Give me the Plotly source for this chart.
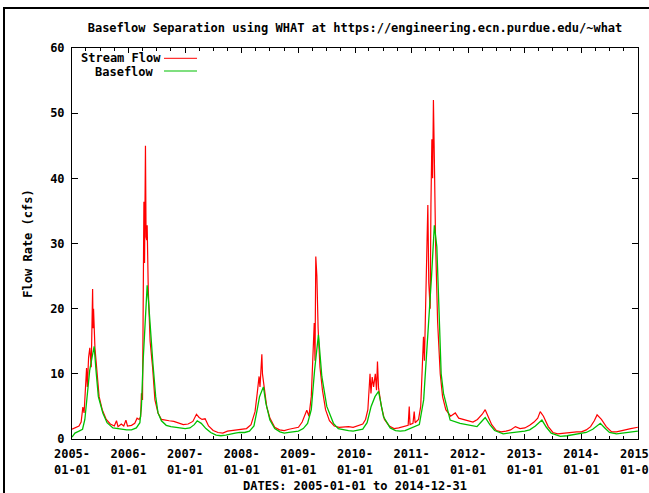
import plotly.graph_objects as go

# ---- Data ----
stream_dates = [
    "2005-01-01", "2005-01-25", "2005-02-15", "2005-03-01", "2005-03-12", "2005-03-20", "2005-04-05", "2005-04-10",
    "2005-04-18", "2005-04-26", "2005-05-05", "2005-05-14", "2005-05-17", "2005-05-20", "2005-05-29", "2005-06-10",
    "2005-06-25", "2005-07-15", "2005-08-10", "2005-09-05", "2005-10-01", "2005-10-15", "2005-10-25", "2005-11-15",
    "2005-12-01", "2005-12-15", "2005-12-25", "2006-01-20", "2006-02-10", "2006-02-25", "2006-03-10", "2006-03-20",
    "2006-03-25", "2006-04-01", "2006-04-05", "2006-04-10", "2006-04-14", "2006-04-20", "2006-04-24", "2006-04-28",
    "2006-05-01", "2006-05-08", "2006-05-20", "2006-06-05", "2006-06-20", "2006-07-10", "2006-08-01", "2006-08-20",
    "2006-09-20", "2006-10-20", "2006-11-20", "2006-12-20", "2007-01-20", "2007-02-20", "2007-03-15", "2007-04-01",
    "2007-04-20", "2007-05-10", "2007-06-01", "2007-07-01", "2007-08-01", "2007-09-01", "2007-10-01", "2007-11-01",
    "2007-12-01", "2008-01-01", "2008-02-01", "2008-03-01", "2008-03-27", "2008-04-10", "2008-04-22", "2008-04-28",
    "2008-05-10", "2008-05-14", "2008-05-25", "2008-06-10", "2008-07-01", "2008-08-01", "2008-09-01", "2008-10-01",
    "2008-11-01", "2008-12-01", "2009-01-01", "2009-01-25", "2009-02-24", "2009-03-10", "2009-03-25", "2009-04-13",
    "2009-04-18", "2009-04-23", "2009-04-30", "2009-05-08", "2009-05-20", "2009-06-05", "2009-06-25", "2009-07-20",
    "2009-08-20", "2009-09-20", "2009-10-20", "2009-11-20", "2009-12-20", "2010-01-20", "2010-02-20", "2010-03-10",
    "2010-03-25", "2010-04-08", "2010-04-14", "2010-04-22", "2010-05-01", "2010-05-12", "2010-05-20", "2010-05-26",
    "2010-06-02", "2010-06-20", "2010-07-10", "2010-08-10", "2010-09-10", "2010-10-10", "2010-11-10", "2010-12-10",
    "2010-12-17", "2010-12-22", "2011-01-10", "2011-01-18", "2011-01-24", "2011-02-15", "2011-03-01", "2011-03-09",
    "2011-03-19", "2011-03-25", "2011-04-05", "2011-04-16", "2011-04-22", "2011-05-01", "2011-05-06", "2011-05-12",
    "2011-05-17", "2011-05-22", "2011-05-28", "2011-06-05", "2011-06-18", "2011-07-05", "2011-07-20", "2011-08-10",
    "2011-09-10", "2011-10-10", "2011-11-01", "2011-12-01", "2012-01-01", "2012-02-01", "2012-03-01", "2012-04-01",
    "2012-04-20", "2012-05-10", "2012-06-01", "2012-07-01", "2012-08-01", "2012-09-01", "2012-10-01", "2012-11-01",
    "2012-12-01", "2013-01-01", "2013-02-01", "2013-03-01", "2013-03-25", "2013-04-10", "2013-05-01", "2013-06-01",
    "2013-07-01", "2013-08-01", "2013-09-01", "2013-10-01", "2013-11-01", "2013-12-01", "2014-01-01", "2014-02-01",
    "2014-03-01", "2014-03-25", "2014-04-12", "2014-05-10", "2014-06-10", "2014-07-15", "2014-08-15", "2014-09-15",
    "2014-10-15", "2014-11-15", "2014-12-31",
]
stream_flow = [
    1.5, 1.8, 2.0, 2.6, 4.9, 4.0, 10.9, 8.0,
    12.5, 14.0, 11.0, 23.0, 17.0, 20.0, 14.0, 10.0,
    6.5, 4.5, 3.0, 2.3, 2.0, 2.8, 1.9, 2.3,
    2.0, 2.9, 2.0, 2.1, 2.4, 3.2, 3.0, 3.4,
    7.0, 6.0, 18.7, 36.4, 27.0, 45.0, 31.0, 30.5,
    32.8, 23.0, 15.0, 11.0, 6.0, 4.0, 3.0, 2.9,
    2.8, 2.7, 2.4, 2.2, 2.3, 2.7, 3.8, 3.3,
    3.0, 3.1, 2.0, 1.3, 1.0, 0.9, 1.2, 1.3,
    1.4, 1.4, 1.6, 2.2, 4.2, 7.0, 9.6, 8.0,
    13.0, 10.0, 8.0, 5.0, 3.2, 1.8, 1.4, 1.3,
    1.5, 1.7, 1.8, 2.6, 4.4, 3.5, 6.5, 17.8,
    12.0, 28.0, 25.0, 17.0, 11.0, 7.5, 4.5, 2.8,
    2.0, 1.8, 1.9, 1.9, 1.8, 2.0, 2.3, 3.0,
    4.5, 10.0, 7.0, 9.5, 8.0, 10.0, 7.5, 11.9,
    7.8, 5.0, 3.0, 2.0, 1.6, 1.7, 1.9, 2.1,
    5.0, 2.2, 2.4, 4.2, 2.5, 3.0, 5.0, 9.6,
    15.7, 12.0, 22.0, 35.9, 24.0, 20.0, 36.0, 46.0,
    40.0, 52.0, 43.0, 30.0, 18.0, 10.0, 6.5, 4.5,
    3.5, 4.0, 3.2, 3.0, 2.7, 2.6, 3.0, 3.8,
    4.5, 3.5, 2.2, 1.3, 1.1, 1.2, 1.4, 1.9,
    1.6, 1.7, 2.1, 2.6, 3.2, 4.2, 3.5, 1.9,
    1.0, 0.8, 0.9, 1.0, 1.0, 1.1, 1.1, 1.4,
    1.9, 2.8, 3.7, 3.0, 1.9, 1.1, 1.1, 1.3,
    1.4, 1.6, 1.8,
]

base_dates = [
    "2005-01-01", "2005-01-20", "2005-02-15", "2005-03-10", "2005-03-25", "2005-04-10", "2005-04-25", "2005-05-10",
    "2005-05-24", "2005-06-05", "2005-06-20", "2005-07-19", "2005-08-15", "2005-09-22", "2005-10-20", "2005-11-20",
    "2005-12-20", "2006-01-20", "2006-02-20", "2006-03-15", "2006-03-25", "2006-04-05", "2006-04-20", "2006-05-01",
    "2006-05-10", "2006-05-25", "2006-06-07", "2006-06-25", "2006-07-10", "2006-08-01", "2006-09-01", "2006-10-01",
    "2006-11-01", "2006-12-01", "2007-01-01", "2007-02-01", "2007-03-01", "2007-03-20", "2007-04-15", "2007-05-15",
    "2007-06-15", "2007-07-20", "2007-08-20", "2007-09-20", "2007-10-20", "2007-11-20", "2007-12-20", "2008-01-20",
    "2008-02-20", "2008-03-20", "2008-04-10", "2008-04-25", "2008-05-20", "2008-06-05", "2008-07-01", "2008-08-01",
    "2008-09-04", "2008-10-01", "2008-11-01", "2008-12-01", "2009-01-01", "2009-02-01", "2009-03-01", "2009-03-25",
    "2009-04-15", "2009-05-10", "2009-06-01", "2009-07-03", "2009-08-15", "2009-09-15", "2009-10-19", "2009-11-20",
    "2009-12-20", "2010-01-20", "2010-02-20", "2010-03-20", "2010-04-15", "2010-05-10", "2010-06-02", "2010-07-04",
    "2010-08-16", "2010-09-20", "2010-10-20", "2010-11-20", "2010-12-20", "2011-01-20", "2011-02-20", "2011-03-20",
    "2011-04-20", "2011-05-10", "2011-05-28", "2011-06-13", "2011-06-30", "2011-07-11", "2011-07-26", "2011-09-07",
    "2011-11-10", "2011-12-20", "2012-02-27", "2012-03-25", "2012-04-20", "2012-05-20", "2012-06-20", "2012-08-14",
    "2012-10-01", "2012-11-15", "2012-12-31", "2013-02-01", "2013-03-10", "2013-04-21", "2013-05-20", "2013-06-20",
    "2013-08-18", "2013-10-01", "2013-11-15", "2013-12-31", "2014-02-01", "2014-03-15", "2014-05-03", "2014-06-01",
    "2014-07-01", "2014-08-15", "2014-10-01", "2014-11-15", "2014-12-31",
]
baseflow = [
    0.3, 0.9, 1.2, 1.5, 3.0, 6.5, 10.5, 12.5,
    14.2, 10.5, 6.5, 4.0, 2.5, 1.7, 1.6, 1.5,
    1.4, 1.4, 1.7, 2.5, 5.0, 12.0, 19.0, 23.6,
    21.0, 15.0, 11.6, 6.5, 4.0, 2.8, 2.1, 1.9,
    1.8, 1.7, 1.6, 1.7, 2.2, 2.8, 2.4, 1.6,
    1.0, 0.6, 0.5, 0.6, 0.8, 0.9, 1.0, 1.0,
    1.2, 2.0, 4.5, 6.5, 8.0, 5.5, 2.9, 1.6,
    1.1, 0.9, 1.0, 1.1, 1.2, 1.6, 2.4, 4.5,
    10.5, 16.0, 9.6, 5.0, 2.4, 1.6, 1.4, 1.3,
    1.2, 1.3, 1.5, 2.5, 5.0, 6.5, 7.3, 3.4,
    1.7, 1.3, 1.2, 1.3, 1.6, 1.8, 2.2, 6.0,
    16.7, 25.0, 32.8, 29.5, 17.7, 10.0, 7.0, 2.9,
    2.4, 2.2, 1.9, 2.6, 3.3, 2.2, 1.3, 0.8,
    0.9, 1.1, 1.2, 1.4, 2.0, 2.9, 1.8, 0.9,
    0.4, 0.5, 0.7, 0.8, 1.0, 1.5, 2.4, 1.7,
    1.0, 0.8, 0.9, 1.0, 1.2,
]

year_ticks = ["2005-01-01", "2006-01-01", "2007-01-01", "2008-01-01", "2009-01-01", "2010-01-01",
              "2011-01-01", "2012-01-01", "2013-01-01", "2014-01-01", "2015-01-01"]
year_labels = ["2005-<br>01-01", "2006-<br>01-01", "2007-<br>01-01", "2008-<br>01-01", "2009-<br>01-01",
               "2010-<br>01-01", "2011-<br>01-01", "2012-<br>01-01", "2013-<br>01-01", "2014-<br>01-01",
               "2015-<br>01-01"]
y_ticks = [0, 10, 20, 30, 40, 50, 60]

FONT = dict(family="DejaVu Sans Mono", size=12, color="black", weight="bold")

fig = go.Figure()
fig.add_trace(go.Scatter(x=stream_dates, y=stream_flow, mode="lines", name="Stream Flow",
                         line=dict(color="#ff0000", width=1.2)))
fig.add_trace(go.Scatter(x=base_dates, y=baseflow, mode="lines", name="Baseflow",
                         line=dict(color="#00c000", width=1.3)))

L, R, T, B = 72, 11, 48, 54
W, H = 649, 493
pw, ph = W - L - R, H - T - B

fig.update_layout(
    width=W, height=H,
    margin=dict(l=L, r=R, t=T, b=B, autoexpand=False),
    paper_bgcolor="white", plot_bgcolor="white",
    showlegend=False,
    font=FONT,
    title=dict(text="Baseflow Separation using WHAT at https://engineering.ecn.purdue.edu/~what",
               x=(L + pw / 2) / W, xanchor="center", y=1 - 28 / H, yanchor="middle", font=FONT,
               automargin=False),
    xaxis=dict(
        type="date", range=["2005-01-01", "2015-01-01"],
        tickmode="array", tickvals=year_ticks, ticktext=year_labels,
        ticks="inside", ticklen=5, tickcolor="black", tickwidth=1,
        minor=dict(dtick="M3", tick0="2005-01-01", ticks="inside", ticklen=3, tickcolor="black", showgrid=False),
        showline=True, linecolor="black", linewidth=1, mirror="allticks",
        showgrid=False, zeroline=False, tickfont=FONT, automargin=False,
        ticklabeloverflow="allow", ticklabelstandoff=4,
        title=dict(text="DATES: 2005-01-01 to 2014-12-31", font=FONT, standoff=8),
    ),
    yaxis=dict(
        range=[0, 60], tickvals=y_ticks,
        ticks="inside", ticklen=6, tickcolor="black", tickwidth=1,
        showline=True, linecolor="black", linewidth=1, mirror="allticks",
        showgrid=False, zeroline=False, tickfont=FONT, automargin=False,
        ticklabelstandoff=4,
        title=dict(text="Flow Rate (cfs)", font=FONT, standoff=14),
    ),
)

# outer border of the picture (gnuplot canvas frame)
fig.add_shape(type="rect", xref="paper", yref="paper",
              x0=(4 - L) / pw, x1=1.5, y0=-0.5, y1=1 + (T - 8) / ph,
              line=dict(color="black", width=2), layer="below")

# gnuplot-style key: text then line sample
def px(xp):
    return (xp - L) / pw

def py(yp):
    return 1 - (yp - T) / ph

fig.add_annotation(x=px(79), y=py(58.5), xref="paper", yref="paper", text="Stream Flow",
                   showarrow=False, xanchor="left", yanchor="middle", font=FONT)
fig.add_annotation(x=px(93), y=py(72), xref="paper", yref="paper", text="Baseflow",
                   showarrow=False, xanchor="left", yanchor="middle", font=FONT)
fig.add_shape(type="line", xref="paper", yref="paper", x0=px(164), x1=px(197), y0=py(58.3), y1=py(58.3),
              line=dict(color="#ff0000", width=1))
fig.add_shape(type="line", xref="paper", yref="paper", x0=px(164), x1=px(197), y0=py(71), y1=py(71),
              line=dict(color="#00c000", width=1.2))

fig.write_html("out.html", config={"displayModeBar": False},
               post_script="document.body.style.margin='0';")
